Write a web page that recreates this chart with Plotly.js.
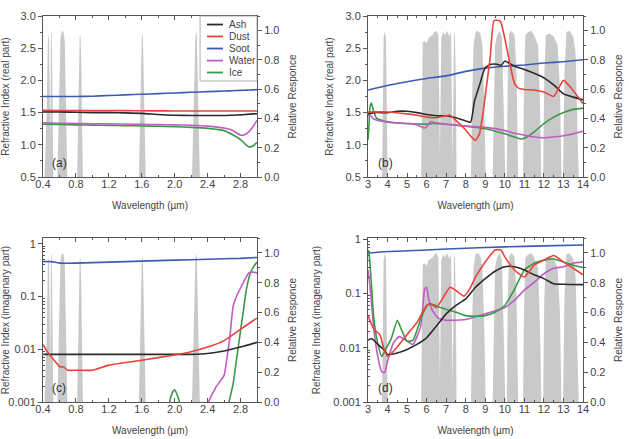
<!DOCTYPE html>
<html>
<head>
<meta charset="utf-8">
<script src="https://cdn.plot.ly/plotly-3.0.1.min.js"></script>
<style>
  html, body { margin: 0; padding: 0; background: #fff; }
  #chart { width: 629px; height: 439px; }
</style>
</head>
<body>
<div id="chart"></div>
<script>
// ---- Series names ----
const seriesNames = ['Ash', 'Dust', 'Soot', 'Water', 'Ice'];

// ---- Sensor relative response, visible / near-IR (0.4–3.0 µm) ----
const respVisWl = [0.42, 0.445, 0.458, 0.466, 0.474, 0.482, 0.488, 0.494, 0.5, 0.508, 0.516, 0.526,
                   0.575, 0.595, 0.612, 0.63, 0.65, 0.665, 0.675, 0.685, 0.695,
                   0.815, 0.832, 0.845, 0.856, 0.866, 0.876, 0.885,
                   1.565, 1.585, 1.6, 1.613, 1.628, 1.648,
                   2.21, 2.232, 2.252, 2.268, 2.284, 2.305];
const respVisVal = [0, 0.45, 0.9, 0.97, 0.95, 0.5, 0.25, 0.7, 1.0, 0.98, 0.5, 0,
                    0, 0.55, 0.95, 1.0, 0.99, 0.92, 0.6, 0.2, 0,
                    0, 0.5, 0.95, 0.97, 0.75, 0.3, 0,
                    0, 0.5, 0.95, 0.98, 0.55, 0,
                    0, 0.5, 0.96, 1.0, 0.55, 0];

// ---- Sensor relative response, thermal IR (3–14 µm) ----
const respTirWl = [3.72, 3.76, 3.8, 3.86, 3.92, 3.96, 4.0,
                   5.72, 5.76, 5.8, 5.9, 6.0, 6.1, 6.2, 6.3, 6.4, 6.5, 6.6, 6.65, 6.68, 6.71, 6.75, 6.85, 6.95, 7.05, 7.15, 7.25, 7.3, 7.33, 7.36, 7.4, 7.45, 7.5, 7.53,
                   8.27, 8.32, 8.4, 8.5, 8.6, 8.75, 8.85, 8.95, 9.02,
                   9.38, 9.43, 9.5, 9.6, 9.75, 9.85, 9.95, 10.03,
                   10.1, 10.15, 10.22, 10.35, 10.5, 10.6, 10.68,
                   10.93, 10.98, 11.05, 11.2, 11.35, 11.5, 11.7, 11.8, 11.87,
                   11.96, 12.02, 12.1, 12.3, 12.5, 12.7, 12.82, 12.9,
                   12.98, 13.05, 13.15, 13.3, 13.5, 13.62, 13.72, 13.78];
const respTirVal = [0, 0.6, 0.95, 1.0, 0.95, 0.5, 0,
                    0, 0.5, 0.92, 0.93, 0.91, 0.95, 0.96, 0.97, 0.99, 1.0, 0.97, 0.5, 0.15, 0.5, 0.95, 0.99, 0.97, 1.0, 0.96, 0.99, 0.5, 0.1, 0.5, 0.98, 0.97, 0.6, 0,
                    0, 0.5, 0.9, 0.99, 1.0, 0.98, 0.9, 0.5, 0,
                    0, 0.5, 0.9, 0.97, 1.0, 0.95, 0.5, 0,
                    0, 0.7, 0.98, 1.0, 0.97, 0.7, 0,
                    0, 0.6, 0.97, 0.99, 1.0, 0.97, 0.9, 0.5, 0,
                    0, 0.7, 0.97, 0.98, 0.96, 0.9, 0.6, 0,
                    0, 0.7, 0.99, 1.0, 0.96, 0.85, 0.3, 0];

// ---- (a) real part, 0.4–3.0 µm ----
const realVisWl = [0.4, 0.6, 0.8, 1.0, 1.2, 1.4, 1.6, 1.8, 2.0, 2.2, 2.4, 2.6, 2.7, 2.8, 2.85, 2.9, 2.95, 3.0];
const realVisAsh   = [1.51, 1.51, 1.505, 1.50, 1.50, 1.495, 1.488, 1.47, 1.458, 1.455, 1.455, 1.455, 1.46, 1.465, 1.47, 1.475, 1.48, 1.483];
const realVisDust  = [1.535, 1.533, 1.532, 1.53, 1.53, 1.53, 1.528, 1.527, 1.526, 1.525, 1.525, 1.524, 1.524, 1.524, 1.524, 1.524, 1.524, 1.524];
const realVisSoot  = [1.75, 1.75, 1.75, 1.755, 1.765, 1.775, 1.785, 1.795, 1.805, 1.815, 1.825, 1.835, 1.84, 1.845, 1.848, 1.85, 1.853, 1.856];
const realVisWater = [1.34, 1.335, 1.33, 1.327, 1.325, 1.322, 1.318, 1.314, 1.31, 1.303, 1.29, 1.26, 1.225, 1.15, 1.155, 1.2, 1.28, 1.38];
const realVisIce   = [1.32, 1.315, 1.31, 1.305, 1.3, 1.297, 1.293, 1.287, 1.28, 1.27, 1.255, 1.22, 1.16, 1.08, 1.02, 0.97, 0.98, 1.04];

// ---- (b) real part, 3–14 µm ----
const realTirAshWl  = [3, 3.3, 4, 4.5, 5, 5.5, 6, 6.5, 7, 7.5, 8, 8.25, 8.45, 8.7, 9, 9.3, 9.6, 9.8, 10, 10.2, 10.5, 11, 11.5, 12, 12.5, 13, 13.5, 14];
const realTirAsh    = [1.48, 1.5, 1.5, 1.52, 1.52, 1.5, 1.47, 1.45, 1.45, 1.42, 1.37, 1.35, 1.68, 1.92, 2.2, 2.25, 2.25, 2.23, 2.3, 2.27, 2.22, 2.17, 2.11, 2.04, 1.93, 1.79, 1.74, 1.70];
const realTirDustWl = [3, 4, 5, 5.5, 6, 6.5, 7, 7.2, 7.5, 8, 8.3, 8.5, 8.7, 8.9, 9.1, 9.25, 9.45, 9.7, 9.8, 9.95, 10.1, 10.3, 10.5, 10.7, 11, 11.5, 12, 12.5, 13, 13.5, 14];
const realTirDust   = [1.51, 1.51, 1.48, 1.46, 1.43, 1.42, 1.45, 1.46, 1.38, 1.23, 1.12, 1.07, 1.17, 1.53, 2.0, 2.35, 2.93, 2.93, 2.9, 2.72, 2.5, 2.2, 1.95, 1.88, 1.86, 1.85, 1.82, 1.75, 2.0, 1.84, 1.64];
const realTirSootWl = [3, 4, 5, 6, 7, 8, 9, 10, 11, 12, 13, 14];
const realTirSoot   = [1.85, 1.92, 1.98, 2.03, 2.07, 2.14, 2.19, 2.22, 2.24, 2.27, 2.29, 2.32];
const realTirWaterWl = [3, 3.1, 3.3, 3.6, 4, 4.5, 5, 5.5, 5.9, 6.05, 6.2, 6.5, 7, 8, 9, 10, 10.5, 11, 11.5, 12, 12.5, 13, 13.5, 14];
const realTirWater   = [1.45, 1.46, 1.40, 1.37, 1.36, 1.34, 1.33, 1.31, 1.26, 1.30, 1.36, 1.34, 1.32, 1.29, 1.27, 1.22, 1.18, 1.15, 1.12, 1.11, 1.12, 1.14, 1.17, 1.21];
const realTirIceWl  = [3, 3.05, 3.1, 3.17, 3.3, 3.45, 3.8, 4, 5, 6, 6.3, 7, 8, 9, 10, 10.5, 10.8, 11, 11.5, 12, 12.5, 13, 13.5, 14];
const realTirIce    = [1.08, 1.3, 1.58, 1.65, 1.51, 1.41, 1.37, 1.35, 1.33, 1.32, 1.33, 1.32, 1.29, 1.25, 1.17, 1.12, 1.09, 1.10, 1.2, 1.33, 1.43, 1.5, 1.55, 1.57];

// ---- (c) imaginary part, 0.4–3.0 µm ----
const imagVisSootWl = [0.4, 0.5, 0.6, 0.8, 1.0, 1.2, 1.6, 2.0, 2.4, 2.8, 3.0];
const imagVisSoot   = [0.46, 0.46, 0.43, 0.43, 0.44, 0.45, 0.47, 0.49, 0.51, 0.53, 0.55];
const imagVisAshWl  = [0.4, 0.8, 1.2, 1.6, 2.0, 2.2, 2.4, 2.6, 2.8, 3.0];
const imagVisAsh    = [0.008, 0.008, 0.008, 0.008, 0.008, 0.008, 0.0083, 0.0093, 0.011, 0.0135];
const imagVisDustWl = [0.4, 0.45, 0.5, 0.55, 0.6, 0.65, 0.7, 0.8, 1.0, 1.2, 1.6, 2.0, 2.2, 2.4, 2.6, 2.8, 3.0];
const imagVisDust   = [0.0124, 0.0091, 0.0072, 0.0058, 0.0047, 0.0046, 0.0040, 0.0040, 0.0040, 0.005, 0.0062, 0.0078, 0.009, 0.011, 0.0146, 0.024, 0.039];
const imagVisWaterWl = [2.38, 2.41, 2.5, 2.6, 2.63, 2.67, 2.71, 2.75, 2.81, 2.9, 2.96, 3.0];
const imagVisWater   = [0.0007, 0.001, 0.0019, 0.0032, 0.006, 0.017, 0.065, 0.1, 0.155, 0.28, 0.29, 0.28];
const imagVisIceWl  = [1.92, 1.95, 1.98, 2.0, 2.02, 2.05, 2.08, null, 2.63, 2.66, 2.71, 2.75, 2.79, 2.83, 2.87, 2.92, 2.96, 3.0];
const imagVisIce    = [0.0007, 0.0012, 0.0016, 0.0017, 0.0015, 0.0011, 0.0007, null, 0.0006, 0.001, 0.0022, 0.0062, 0.0174, 0.048, 0.134, 0.28, 0.37, 0.45];

// ---- (d) imaginary part, 3–14 µm ----
const imagTirSootWl = [3, 4, 6, 8, 10, 12, 14];
const imagTirSoot   = [0.55, 0.59, 0.63, 0.68, 0.72, 0.75, 0.78];
const imagTirAshWl  = [3, 3.2, 3.5, 3.8, 4.0, 4.5, 5, 5.5, 6, 6.5, 7, 7.5, 8, 8.5, 9, 9.5, 10, 10.5, 11, 11.5, 12, 12.5, 13, 14];
const imagTirAsh    = [0.0138, 0.0146, 0.0115, 0.0093, 0.0075, 0.008, 0.0093, 0.0115, 0.0152, 0.025, 0.042, 0.06, 0.079, 0.13, 0.187, 0.256, 0.31, 0.31, 0.27, 0.22, 0.187, 0.15, 0.147, 0.145];
const imagTirDustWl = [3, 3.3, 3.6, 3.8, 4, 4.3, 4.6, 5, 5.5, 6, 6.2, 6.5, 7.2, 7.5, 7.9, 8.2, 8.5, 9, 9.5, 9.8, 10, 10.5, 11, 11.5, 12, 12.5, 13, 13.5, 14];
const imagTirDust   = [0.039, 0.022, 0.0175, 0.01, 0.0069, 0.0086, 0.0115, 0.0175, 0.029, 0.06, 0.064, 0.055, 0.13, 0.113, 0.089, 0.12, 0.2, 0.38, 0.63, 0.63, 0.47, 0.27, 0.2, 0.33, 0.41, 0.5, 0.38, 0.29, 0.22];
const imagTirWaterWl = [3, 3.1, 3.3, 3.5, 3.7, 3.85, 4, 4.3, 4.6, 5, 5.3, 5.7, 5.9, 6.0, 6.1, 6.3, 6.6, 7, 8, 9, 10, 10.5, 11, 11.5, 12, 12.5, 13, 13.5, 14];
const imagTirWater   = [0.27, 0.14, 0.022, 0.0069, 0.0036, 0.0035, 0.0057, 0.0122, 0.016, 0.0132, 0.0115, 0.025, 0.12, 0.13, 0.08, 0.048, 0.035, 0.032, 0.033, 0.042, 0.055, 0.075, 0.115, 0.16, 0.23, 0.29, 0.31, 0.36, 0.38];
const imagTirIceWl  = [3, 3.05, 3.15, 3.3, 3.5, 3.7, 3.9, 4.2, 4.5, 4.7, 5, 5.3, 5.7, 6, 6.2, 6.7, 7, 7.5, 8, 8.5, 9, 9.5, 10, 10.5, 11, 11.5, 12, 12.5, 13, 13.5, 14];
const imagTirIce    = [0.63, 0.55, 0.2, 0.034, 0.012, 0.0069, 0.0093, 0.015, 0.032, 0.022, 0.0132, 0.0137, 0.034, 0.058, 0.064, 0.055, 0.051, 0.045, 0.039, 0.038, 0.039, 0.045, 0.06, 0.12, 0.27, 0.36, 0.41, 0.43, 0.38, 0.33, 0.3];

// ---- Styling ----
const colors = { Ash: '#2a2a2a', Dust: '#e8443c', Soot: '#3a5cb4', Water: '#c25cc4', Ice: '#3a9848' };
const grayFill = '#c9c9c9';
const textColor = '#444';
const lineColor = '#555';
const FONT = '"Liberation Sans", Arial, Helvetica, sans-serif';

// pixel -> paper helpers
const W = 629, H = 439;
const px = v => v / W;
const py = v => 1 - v / H;

// panel frames (pixels): left, right, top, bottom
const frames = {
  a: [43, 257, 16, 177],
  b: [368, 583, 16, 177],
  c: [43, 257, 238, 402],
  d: [368, 583, 238, 402]
};

function responseTrace(xs, ys, xa, ya) {
  return { x: xs, y: ys, xaxis: xa, yaxis: ya, type: 'scatter', mode: 'lines',
           fill: 'tozeroy', fillcolor: grayFill, line: { width: 0, color: grayFill },
           hoverinfo: 'skip', showlegend: false };
}
function seriesTrace(name, xs, ys, xa, ya) {
  return { x: xs, y: ys, xaxis: xa, yaxis: ya, type: 'scatter', mode: 'lines', name: name,
           line: { color: colors[name], width: 1.6, shape: 'spline', smoothing: 0.5 },
           connectgaps: false, hoverinfo: 'skip', showlegend: false };
}

const traces = [
  // (a)
  responseTrace(respVisWl, respVisVal, 'x', 'y'),
  seriesTrace('Ice',   realVisWl, realVisIce,   'x', 'y2'),
  seriesTrace('Water', realVisWl, realVisWater, 'x', 'y2'),
  seriesTrace('Soot',  realVisWl, realVisSoot,  'x', 'y2'),
  seriesTrace('Dust',  realVisWl, realVisDust,  'x', 'y2'),
  seriesTrace('Ash',   realVisWl, realVisAsh,   'x', 'y2'),
  // (b)
  responseTrace(respTirWl, respTirVal, 'x2', 'y3'),
  seriesTrace('Ice',   realTirIceWl,   realTirIce,   'x2', 'y4'),
  seriesTrace('Water', realTirWaterWl, realTirWater, 'x2', 'y4'),
  seriesTrace('Soot',  realTirSootWl,  realTirSoot,  'x2', 'y4'),
  seriesTrace('Ash',   realTirAshWl,   realTirAsh,   'x2', 'y4'),
  seriesTrace('Dust',  realTirDustWl,  realTirDust,  'x2', 'y4'),
  // (c)
  responseTrace(respVisWl, respVisVal, 'x3', 'y5'),
  seriesTrace('Ice',   imagVisIceWl,   imagVisIce,   'x3', 'y6'),
  seriesTrace('Water', imagVisWaterWl, imagVisWater, 'x3', 'y6'),
  seriesTrace('Soot',  imagVisSootWl,  imagVisSoot,  'x3', 'y6'),
  seriesTrace('Ash',   imagVisAshWl,   imagVisAsh,   'x3', 'y6'),
  seriesTrace('Dust',  imagVisDustWl,  imagVisDust,  'x3', 'y6'),
  // (d)
  responseTrace(respTirWl, respTirVal, 'x4', 'y7'),
  seriesTrace('Soot',  imagTirSootWl,  imagTirSoot,  'x4', 'y8'),
  seriesTrace('Water', imagTirWaterWl, imagTirWater, 'x4', 'y8'),
  seriesTrace('Ice',   imagTirIceWl,   imagTirIce,   'x4', 'y8'),
  seriesTrace('Ash',   imagTirAshWl,   imagTirAsh,   'x4', 'y8'),
  seriesTrace('Dust',  imagTirDustWl,  imagTirDust,  'x4', 'y8')
];

const tickFont = { family: FONT, size: 11, color: textColor };
const titleFont = { family: FONT, size: 10, color: textColor };

function xAxis(fr, range, dtick, minorDtick, fmt) {
  return { domain: [px(fr[0]), px(fr[1])], range: range, dtick: dtick, tick0: range[0],
           tickformat: fmt, showline: true, linecolor: lineColor, linewidth: 1, mirror: 'ticks',
           ticks: 'inside', ticklen: 4, tickcolor: lineColor, showgrid: false, zeroline: false,
           ticklabelstandoff: -3,
           minor: { dtick: minorDtick, ticks: 'inside', ticklen: 2, tickcolor: lineColor },
           tickfont: tickFont, title: { text: 'Wavelength (µm)', font: titleFont, standoff: 12 } };
}
function respAxis(fr, anchor) {
  return { domain: [py(fr[3]), py(fr[2])], anchor: anchor, side: 'right', range: [0, 1.1],
           dtick: 0.2, tick0: 0, tickformat: '.1f', showline: true, linecolor: lineColor, linewidth: 1,
           ticks: 'outside', ticklen: 4, tickcolor: lineColor, showgrid: false, zeroline: false,
           minor: { dtick: 0.1, ticks: 'outside', ticklen: 2, tickcolor: lineColor },
           tickfont: tickFont, title: { text: 'Relative Responce', font: titleFont, standoff: 10 } };
}
function realAxis(base, anchor) {
  return { overlaying: base, anchor: anchor, side: 'left', range: [0.5, 3.0], dtick: 0.5, tick0: 0.5,
           tickformat: '.1f', showline: true, linecolor: lineColor, linewidth: 1,
           ticks: 'outside', ticklen: 4, tickcolor: lineColor, showgrid: false, zeroline: false,
           minor: { dtick: 0.25, ticks: 'outside', ticklen: 2, tickcolor: lineColor },
           tickfont: tickFont, title: { text: 'Refractive Index (real part)', font: titleFont, standoff: 10 } };
}
const logMinor = [];
[0.001, 0.01, 0.1].forEach(d => { for (let k = 2; k <= 9; k++) logMinor.push(d * k); });
function imagAxis(base, anchor, top) {
  return { overlaying: base, anchor: anchor, side: 'left', type: 'log', range: [-3, top],
           tickmode: 'array', tickvals: [0.001, 0.01, 0.1, 1], ticktext: ['0.001', '0.01', '0.1', '1'],
           showline: true, linecolor: lineColor, linewidth: 1,
           ticks: 'outside', ticklen: 4, tickcolor: lineColor, showgrid: false, zeroline: false,
           minor: { tickmode: 'array', tickvals: logMinor, ticks: 'inside', ticklen: 2, tickcolor: lineColor },
           tickfont: tickFont, title: { text: 'Refractive Index (imagenary part)', font: titleFont, standoff: 10 } };
}

const annotations = [];
const shapes = [];

// Panel tags
[['(a)', 'x', 'y'], ['(b)', 'x2', 'y3'], ['(c)', 'x3', 'y5'], ['(d)', 'x4', 'y7']].forEach(([t, xa, ya]) => {
  annotations.push({ text: t, xref: xa + ' domain', yref: ya + ' domain', x: 0.035, y: 0.085,
                     xanchor: 'left', yanchor: 'middle', showarrow: false,
                     font: { family: FONT, size: 12, color: '#333' } });
});

// Key box inside panel (a)
shapes.push({ type: 'rect', xref: 'x domain', yref: 'y domain', x0: 0.734, x1: 1.0, y0: 0.596, y1: 1.0,
              fillcolor: '#fff', line: { color: '#999', width: 0.8 }, layer: 'above' });
const keyRows = [0.947, 0.873, 0.798, 0.723, 0.649];
seriesNames.forEach((name, i) => {
  shapes.push({ type: 'line', xref: 'x domain', yref: 'y domain', x0: 0.766, x1: 0.841,
                y0: keyRows[i], y1: keyRows[i], line: { color: colors[name], width: 1.8 }, layer: 'above' });
  annotations.push({ text: name, xref: 'x domain', yref: 'y domain', x: 0.862, y: keyRows[i],
                     xanchor: 'left', yanchor: 'middle', showarrow: false,
                     font: { family: FONT, size: 10, color: textColor } });
});

const layout = {
  width: W, height: H, margin: { l: 0, r: 0, t: 0, b: 0 },
  paper_bgcolor: '#fff', plot_bgcolor: 'rgba(0,0,0,0)',
  font: { family: FONT, color: textColor },
  showlegend: false,
  xaxis:  xAxis(frames.a, [0.4, 3.0], 0.4, 0.2, '.1f'),
  xaxis2: Object.assign(xAxis(frames.b, [3, 14], 1, 0.5, 'd'), { anchor: 'y3' }),
  xaxis3: Object.assign(xAxis(frames.c, [0.4, 3.0], 0.4, 0.2, '.1f'), { anchor: 'y5' }),
  xaxis4: Object.assign(xAxis(frames.d, [3, 14], 1, 0.5, 'd'), { anchor: 'y7' }),
  yaxis:  respAxis(frames.a, 'x'),
  yaxis2: realAxis('y', 'x'),
  yaxis3: respAxis(frames.b, 'x2'),
  yaxis4: realAxis('y3', 'x2'),
  yaxis5: respAxis(frames.c, 'x3'),
  yaxis6: imagAxis('y5', 'x3', 0.11),
  yaxis7: respAxis(frames.d, 'x4'),
  yaxis8: imagAxis('y7', 'x4', 0.02),
  annotations: annotations,
  shapes: shapes
};
layout.xaxis.anchor = 'y';

Plotly.newPlot('chart', traces, layout, { staticPlot: true, displayModeBar: false });
</script>
</body>
</html>
